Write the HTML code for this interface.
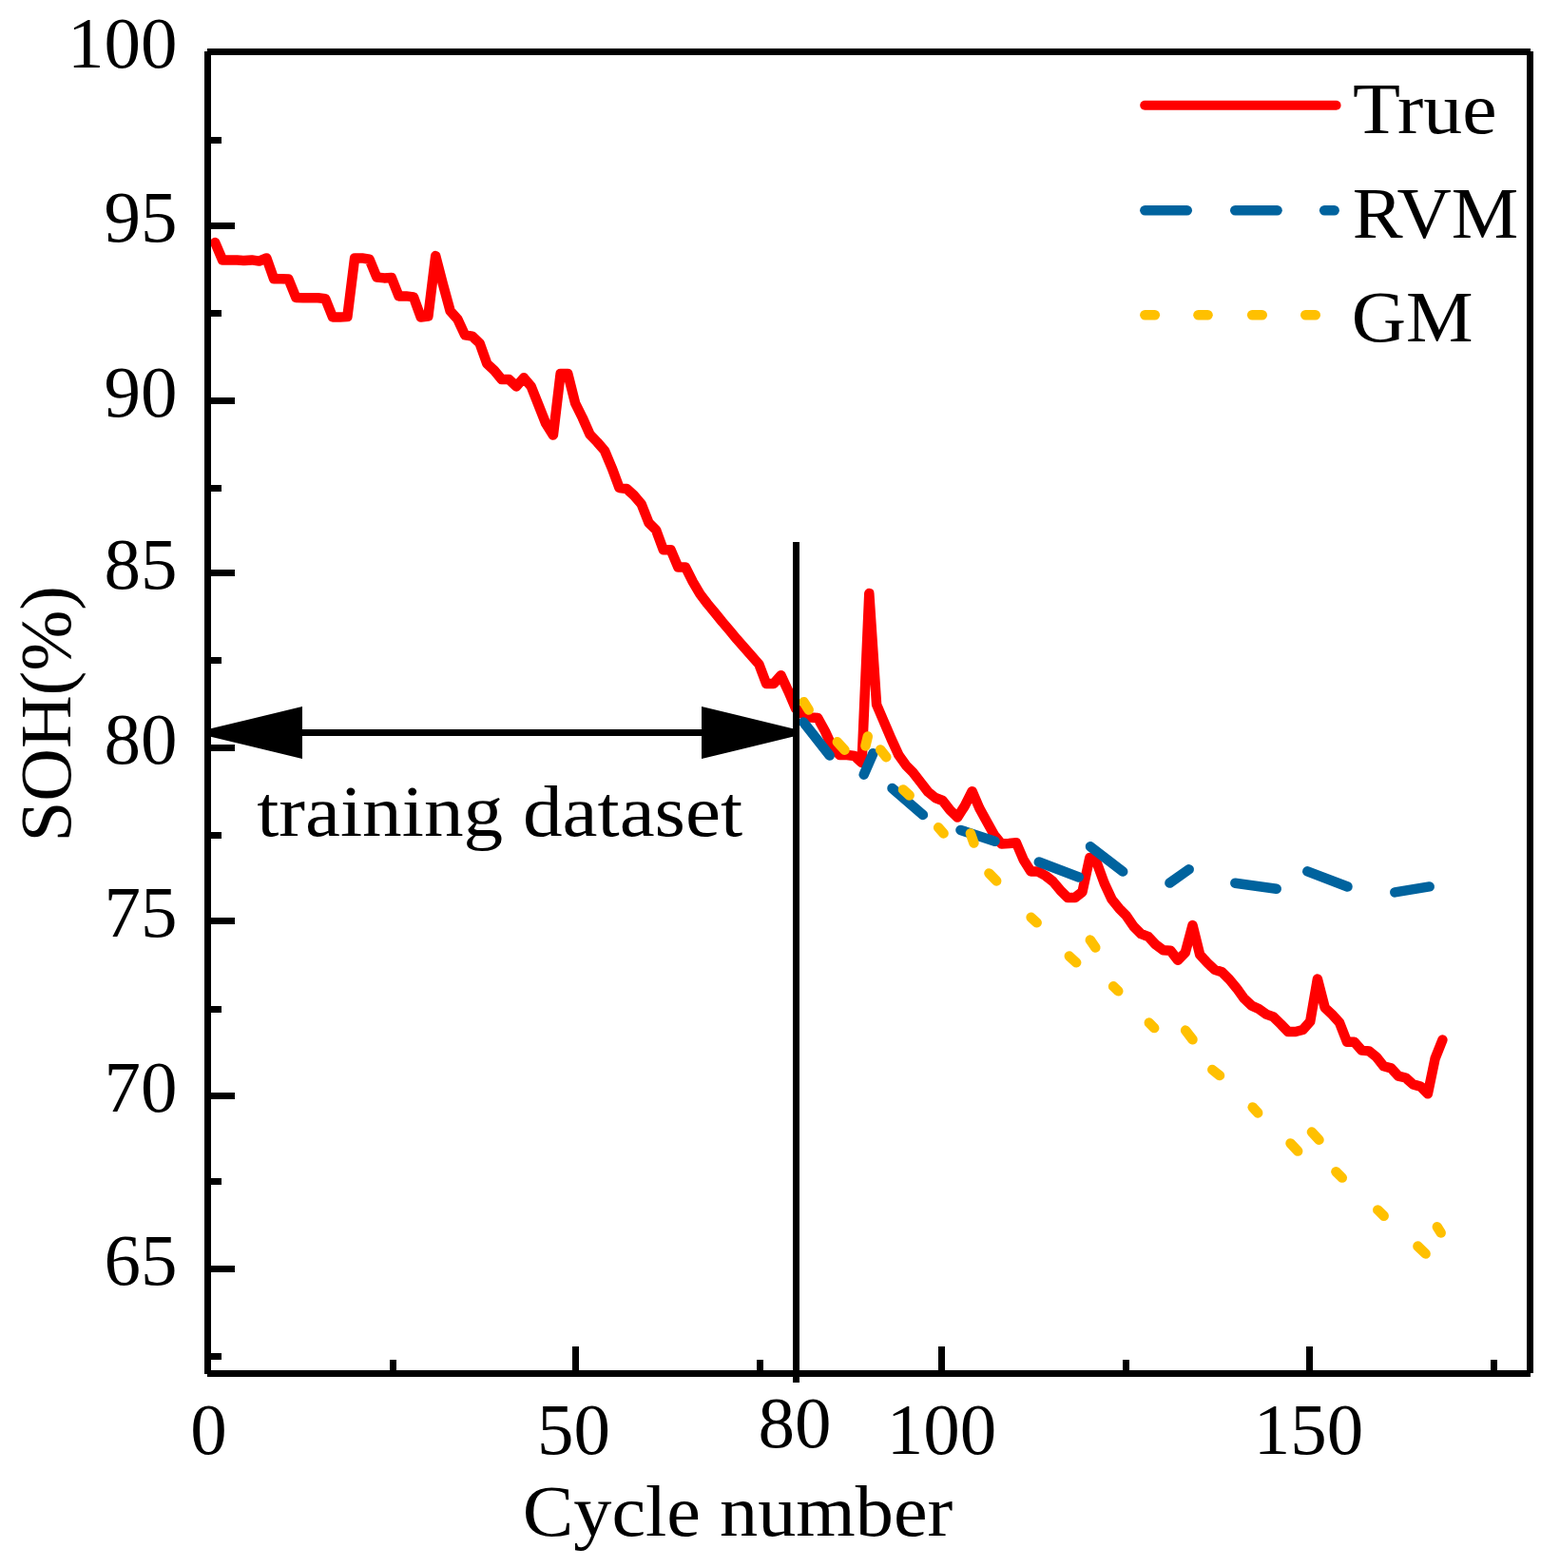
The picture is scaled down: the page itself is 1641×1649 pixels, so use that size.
<!DOCTYPE html>
<html><head><meta charset="utf-8"><title>SOH prediction</title>
<style>
html,body{margin:0;padding:0;background:#fff;}
svg{display:block;}
text{font-family:"Liberation Serif","DejaVu Serif",serif;fill:#000;}
</style></head><body>
<svg width="1641" height="1649" viewBox="0 0 1641 1649">
<rect x="0" y="0" width="1641" height="1649" fill="#fff"/>
<polyline points="226.2,255.0 234.0,273.4 241.7,273.4 249.4,273.6 257.2,274.1 264.9,273.4 272.6,274.6 280.4,271.4 288.1,293.3 295.8,293.3 303.5,293.6 311.3,312.9 319.0,313.2 326.7,313.2 334.5,313.2 342.2,314.1 349.9,333.4 357.7,333.4 365.4,333.0 373.1,271.4 380.9,271.4 388.6,272.7 396.3,291.5 404.1,292.4 411.8,292.0 419.5,311.4 427.2,311.4 435.0,312.4 442.7,333.5 450.4,332.5 458.2,269.1 465.9,298.8 473.6,327.0 481.4,335.8 489.1,352.4 496.8,353.6 504.6,361.0 512.3,382.5 520.0,389.7 527.8,399.1 535.5,399.1 543.2,406.4 551.0,397.3 558.7,406.4 566.4,425.7 574.1,445.2 581.9,457.6 589.6,393.1 597.3,393.1 605.1,424.0 612.8,439.5 620.5,456.8 628.3,465.0 636.0,473.9 643.7,492.2 651.5,513.1 659.2,514.0 666.9,521.0 674.7,530.1 682.4,549.7 690.1,557.4 697.8,578.3 705.6,578.3 713.3,596.4 721.0,596.4 728.8,611.8 736.5,624.9 744.2,635.0 752.0,644.4 759.7,653.9 767.4,662.9 775.2,672.3 782.9,681.0 790.6,689.7 798.4,698.6 806.1,719.0 813.8,719.0 821.5,710.2 829.3,727.0 837.0,745.0 844.7,751.0 852.5,754.5 860.2,755.0 867.9,769.0 875.7,786.0 883.4,794.0 891.1,794.0 898.9,795.0 906.6,802.0 914.3,624.0 922.1,741.0 929.8,759.0 937.5,777.0 945.3,794.0 953.0,804.8 960.7,812.7 968.4,822.6 976.2,832.7 983.9,839.0 991.6,842.0 999.4,852.0 1007.1,859.6 1014.8,847.6 1022.6,832.2 1030.3,850.0 1038.0,864.0 1045.8,878.0 1053.5,887.5 1061.2,887.0 1069.0,886.3 1076.7,904.2 1084.4,916.6 1092.1,916.6 1099.9,921.0 1107.6,927.0 1115.3,936.2 1123.1,944.0 1130.8,944.0 1138.5,938.0 1146.3,902.0 1154.0,908.0 1161.7,929.0 1169.5,945.8 1177.2,955.3 1184.9,963.2 1192.7,974.6 1200.4,982.2 1208.1,985.2 1215.9,993.6 1223.6,999.2 1231.3,999.7 1239.0,1009.8 1246.8,1001.9 1254.5,973.0 1262.2,1004.0 1270.0,1012.5 1277.7,1019.8 1285.4,1022.3 1293.2,1030.0 1300.9,1039.3 1308.6,1050.0 1316.4,1057.4 1324.1,1061.0 1331.8,1066.6 1339.6,1069.4 1347.3,1077.0 1355.0,1085.0 1362.7,1085.0 1370.5,1083.0 1378.2,1074.3 1385.9,1029.6 1393.7,1059.7 1401.4,1067.0 1409.1,1075.6 1416.9,1095.7 1424.6,1095.7 1432.3,1104.5 1440.1,1105.4 1447.8,1111.5 1455.5,1121.3 1463.3,1123.4 1471.0,1131.6 1478.7,1133.5 1486.4,1140.4 1494.2,1142.6 1501.9,1150.2 1509.6,1113.3 1517.4,1093.6" fill="none" stroke="#ff0000" stroke-width="10.5" stroke-linejoin="round" stroke-linecap="round"/>
<g fill="none" stroke="#00639e" stroke-width="10.5" stroke-linejoin="round" stroke-linecap="round">
<polyline points="845.2,759.4 872.7,794.6"/>
<polyline points="908.7,814.7 918.5,792.2"/>
<polyline points="938.5,829.0 970.9,856.9"/>
<polyline points="1010.5,872.9 1046.5,884.7"/>
<polyline points="1092.8,906.5 1134.8,922.5"/>
<polyline points="1147.0,890.3 1181.2,916.6"/>
<polyline points="1230.4,928.6 1250.7,914.3"/>
<polyline points="1299.3,928.8 1342.7,934.7"/>
<polyline points="1375.3,916.3 1417.5,932.5"/>
<polyline points="1467.3,938.4 1503.7,932.4"/>
</g>
<g fill="none" stroke="#ffc000" stroke-width="10.5" stroke-linejoin="round" stroke-linecap="round">
<polyline points="845.5,738.2 850.7,746.6"/>
<polyline points="880.8,780.3 888.5,788.7"/>
<polyline points="910.4,784.4 912.8,774.4"/>
<polyline points="926.2,788.4 932.3,796.2"/>
<polyline points="950.0,830.4 956.7,836.5"/>
<polyline points="987.1,870.3 992.6,876.4"/>
<polyline points="1020.9,876.5 1024.4,886.5"/>
<polyline points="1040.4,918.4 1048.2,926.4"/>
<polyline points="1084.6,964.8 1090.7,970.3"/>
<polyline points="1124.8,1005.6 1132.2,1012.3"/>
<polyline points="1146.8,988.6 1152.3,996.5"/>
<polyline points="1171.1,1037.3 1176.3,1042.3"/>
<polyline points="1208.8,1075.6 1214.2,1081.1"/>
<polyline points="1247.1,1083.6 1254.5,1093.3"/>
<polyline points="1275.3,1125.0 1283.0,1131.1"/>
<polyline points="1317.7,1164.4 1323.2,1170.4"/>
<polyline points="1357.5,1202.4 1365.2,1210.6"/>
<polyline points="1379.9,1190.5 1387.5,1198.7"/>
<polyline points="1405.4,1232.2 1411.8,1238.6"/>
<polyline points="1449.3,1272.4 1455.7,1278.8"/>
<polyline points="1491.4,1310.6 1499.6,1318.5"/>
<polyline points="1511.8,1290.3 1515.7,1296.5"/>
</g>
<g fill="#000" stroke="none">
<rect x="834" y="570" width="7" height="884"/>
<rect x="218.5" y="767" width="619" height="7"/>
<polygon points="218.5,767 218.5,774 318,798 318,743"/>
<polygon points="837,767 837,774 738,798 738,743"/>
</g>
<g fill="#000" stroke="none">
<rect x="215" y="54" width="7" height="1391"/>
<rect x="218" y="51" width="1392" height="7"/>
<rect x="1606" y="54" width="7" height="1390"/>
<rect x="218" y="1441" width="1392" height="7"/>
<rect x="222" y="234" width="25" height="7"/>
<rect x="222" y="418" width="25" height="7"/>
<rect x="222" y="599" width="25" height="7"/>
<rect x="222" y="783" width="25" height="7"/>
<rect x="222" y="965" width="25" height="7"/>
<rect x="222" y="1149" width="25" height="7"/>
<rect x="222" y="1331" width="25" height="7"/>
<rect x="222" y="144" width="11" height="7"/>
<rect x="222" y="326" width="11" height="7"/>
<rect x="222" y="510" width="11" height="7"/>
<rect x="222" y="691" width="11" height="7"/>
<rect x="222" y="875" width="11" height="7"/>
<rect x="222" y="1058" width="11" height="7"/>
<rect x="222" y="1239" width="11" height="7"/>
<rect x="222" y="1423" width="11" height="7"/>
<rect x="602" y="1416" width="7" height="25"/>
<rect x="987" y="1416" width="7" height="25"/>
<rect x="1374" y="1416" width="7" height="25"/>
<rect x="410" y="1430" width="7" height="11"/>
<rect x="796" y="1430" width="7" height="11"/>
<rect x="1181" y="1430" width="7" height="11"/>
<rect x="1568" y="1430" width="7" height="11"/>
</g>
<line x1="1204.2" y1="110.8" x2="1405.6" y2="110.8" stroke="#ff0000" stroke-width="10" stroke-linecap="round"/>
<g stroke="#00639e" stroke-width="10.6" stroke-linecap="round"><line x1="1204.4" y1="221.3" x2="1248.7" y2="221.3"/><line x1="1299.3" y1="221.3" x2="1343.5" y2="221.3"/><line x1="1393.2" y1="221.3" x2="1403.6" y2="221.3"/></g>
<g stroke="#ffc000" stroke-width="10.6" stroke-linecap="round"><line x1="1204.4" y1="331.3" x2="1214.8" y2="331.3"/><line x1="1260.5" y1="331.3" x2="1270.5" y2="331.3"/><line x1="1317.2" y1="331.3" x2="1327.7" y2="331.3"/><line x1="1373.3" y1="331.3" x2="1383.7" y2="331.3"/></g>
<text x="1422.9" y="139.7" font-size="76" textLength="151.7" lengthAdjust="spacingAndGlyphs">True</text>
<text x="1422.8" y="249.7" font-size="76" textLength="174.5" lengthAdjust="spacingAndGlyphs">RVM</text>
<text x="1421.8" y="359" font-size="76" textLength="127.9" lengthAdjust="spacingAndGlyphs">GM</text>
<text x="186.5" y="71.0" font-size="77" text-anchor="end">100</text>
<text x="186.5" y="254.0" font-size="77" text-anchor="end">95</text>
<text x="186.5" y="438.0" font-size="77" text-anchor="end">90</text>
<text x="186.5" y="619.0" font-size="77" text-anchor="end">85</text>
<text x="186.5" y="803.0" font-size="77" text-anchor="end">80</text>
<text x="186.5" y="985.0" font-size="77" text-anchor="end">75</text>
<text x="186.5" y="1169.0" font-size="77" text-anchor="end">70</text>
<text x="186.5" y="1351.0" font-size="77" text-anchor="end">65</text>
<text x="219.5" y="1529" font-size="77" text-anchor="middle">0</text>
<text x="603.5" y="1529" font-size="77" text-anchor="middle">50</text>
<text x="836" y="1522" font-size="77" text-anchor="middle">80</text>
<text x="990.5" y="1529" font-size="77" text-anchor="middle">100</text>
<text x="1376.5" y="1529" font-size="77" text-anchor="middle">150</text>
<text x="549.7" y="1615" font-size="76" textLength="452.6" lengthAdjust="spacingAndGlyphs">Cycle number</text>
<text x="0" y="0" font-size="76" textLength="269.5" lengthAdjust="spacingAndGlyphs" transform="translate(74,885.5) rotate(-90)">SOH(%)</text>
<text x="270.2" y="879" font-size="76" textLength="510.9" lengthAdjust="spacingAndGlyphs">training dataset</text>
</svg>
</body></html>
